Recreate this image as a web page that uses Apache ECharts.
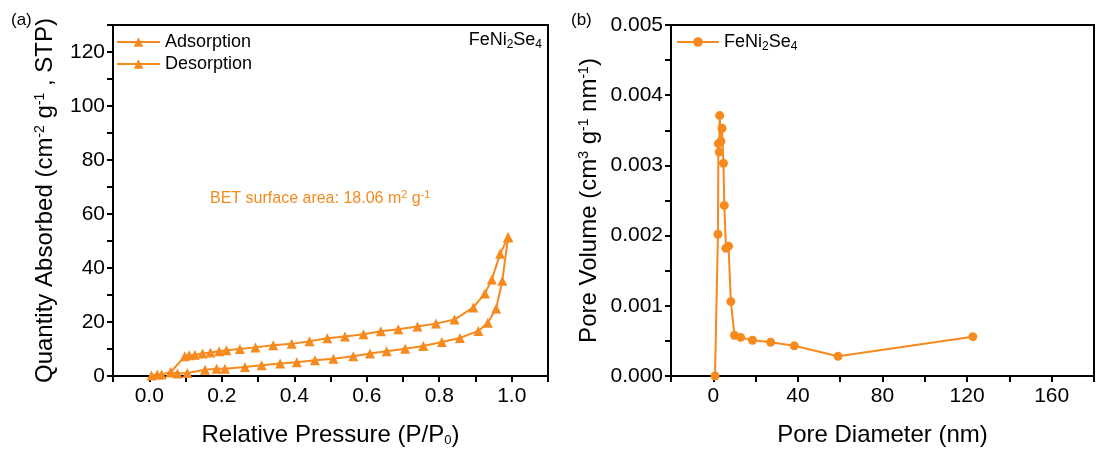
<!DOCTYPE html>
<html>
<head>
<meta charset="utf-8">
<script src="https://cdn.jsdelivr.net/npm/echarts@6/dist/echarts.min.js"></script>
<style>
  html, body { margin: 0; padding: 0; background: #fff; }
  #main { width: 1097px; height: 452px; }
</style>
</head>
<body>
<div id="main"></div>
<script>
// (a) isotherm, lower branch
const adsP = [0.006, 0.022, 0.034, 0.059, 0.078, 0.105, 0.154, 0.186, 0.209, 0.264, 0.310, 0.361, 0.407, 0.457, 0.508, 0.563, 0.609, 0.655, 0.706, 0.756, 0.807, 0.857, 0.908, 0.934, 0.957, 0.974, 0.990]
const adsQ = [0.2, 0.6, 0.6, 1.4, 0.9, 1.1, 2.3, 2.7, 2.7, 3.3, 4.0, 4.6, 5.1, 5.8, 6.4, 7.3, 8.3, 9.2, 10.1, 11.1, 12.6, 14.1, 16.7, 19.7, 25.0, 35.3, 51.4]
// (a) isotherm, upper branch
const desP = [0.990, 0.968, 0.945, 0.926, 0.894, 0.842, 0.791, 0.740, 0.687, 0.639, 0.591, 0.540, 0.491, 0.442, 0.393, 0.342, 0.293, 0.250, 0.213, 0.193, 0.169, 0.147, 0.126, 0.110, 0.098, 0.059]
const desQ = [51.4, 45.3, 35.7, 30.6, 25.4, 20.9, 19.4, 18.3, 17.3, 16.6, 15.5, 14.6, 14.0, 12.9, 11.9, 11.4, 10.6, 10.0, 9.5, 9.2, 8.7, 8.3, 7.9, 7.7, 7.3, 1.4]
// (b) pore size distribution
const poreD = [0.8, 2.2, 2.4, 2.8, 3.0, 3.6, 4.1, 4.8, 5.2, 6.0, 7.2, 8.3, 10.0, 12.9, 18.5, 27.1, 38.3, 59.0, 122.7]
const poreV = [0, 0.00202, 0.00331, 0.00319, 0.00371, 0.00334, 0.00353, 0.00303, 0.00243, 0.00182, 0.00185, 0.00106, 0.00058, 0.00055, 0.00051, 0.00048, 0.00043, 0.00028, 0.00056]

const orange = '#f68a1e'
const font = 'Liberation Sans, Arial, sans-serif'
const zip = (a, b) => a.map((v, i) => [v, b[i]])

const rich = {
  sup: { fontSize: 14, fontFamily: font, padding: [0, 0, 11, 0] },
  sub: { fontSize: 13, fontFamily: font, padding: [11, 0, 0, 0] }
}
const richSmall = {
  sub: { fontSize: 12, fontFamily: font, padding: [9, 0, 0, 0] }
}

// 坐标轴公共样式
function axisBase (extra) {
  return Object.assign({
    type: 'value',
    splitLine: { show: false },
    axisLine: { show: true, onZero: false, lineStyle: { color: '#000', width: 2 } },
    axisTick: { show: true, length: 6, lineStyle: { color: '#000', width: 2 } },
    nameLocation: 'middle',
    nameTextStyle: { color: '#000', fontSize: 24, fontFamily: font, rich: rich }
  }, extra)
}

const chart = echarts.init(document.getElementById('main'))
chart.setOption({
  animation: false,
  backgroundColor: '#fff',
  textStyle: { fontFamily: font },
  grid: [
    { left: 113, right: 549, top: 25, bottom: 76, show: true, borderColor: '#000', borderWidth: 2 },
    { left: 671, right: -9, top: 25, bottom: 76, show: true, borderColor: '#000', borderWidth: 2 }
  ],
  title: [
    { text: '(a)', left: 6, top: 7, textStyle: { fontSize: 17, fontWeight: 'normal', color: '#000', fontFamily: font } },
    { text: '(b)', left: 566, top: 7, textStyle: { fontSize: 17, fontWeight: 'normal', color: '#000', fontFamily: font } },
    {
      text: 'FeNi{sub|2}Se{sub|4}', right: 550, top: 25,
      textStyle: { fontSize: 18, fontWeight: 'normal', color: '#000', fontFamily: font, rich: richSmall }
    },
    {
      text: 'BET surface area: 18.06 m{sup|2} g{sup|-1}', left: 205, top: 184,
      textStyle: { fontSize: 16, fontWeight: 'normal', color: orange, fontFamily: font, rich: {
        sup: { fontSize: 11, color: orange, fontFamily: font, padding: [0, 0, 9, 0] }
      } }
    }
  ],
  legend: [
    {
      data: ['Adsorption', 'Desorption'],
      orient: 'vertical', left: 111, top: 28, itemGap: 4,
      itemWidth: 43, itemHeight: 12,
      textStyle: { fontSize: 18, color: '#000', fontFamily: font }
    },
    {
      data: ['FeNi2Se4'],
      left: 671, top: 28, itemWidth: 42, itemHeight: 12,
      formatter: () => 'FeNi{sub|2}Se{sub|4}',
      textStyle: { fontSize: 18, color: '#000', fontFamily: font, rich: richSmall }
    }
  ],
  xAxis: [
    axisBase({
      gridIndex: 0, min: -0.1, max: 1.1, interval: 0.1,
      name: 'Relative Pressure (P/P{sub|0})', nameGap: 47,
      axisLabel: {
        color: '#000', fontSize: 21, margin: 10, fontFamily: font,
        formatter: v => {
          const k = Math.round(v * 10)
          return (k < 0 || k > 10 || k % 2) ? '' : (k / 10).toFixed(1)
        }
      }
    }),
    axisBase({
      gridIndex: 1, min: -20, max: 180, interval: 20,
      name: 'Pore Diameter (nm)', nameGap: 47,
      axisLabel: {
        color: '#000', fontSize: 21, margin: 10, fontFamily: font,
        formatter: v => (v < 0 || v % 40) ? '' : String(v)
      }
    })
  ],
  yAxis: [
    axisBase({
      gridIndex: 0, min: 0, max: 130, interval: 10,
      name: 'Quantity Absorbed (cm{sup|-2} g{sup|-1} , STP)', nameGap: 55,
      axisLabel: {
        color: '#000', fontSize: 21, margin: 8, fontFamily: font,
        formatter: v => (v % 20 || v > 120) ? '' : String(v)
      }
    }),
    axisBase({
      gridIndex: 1, min: 0, max: 0.005, interval: 0.0005,
      name: 'Pore Volume (cm{sup|3} g{sup|-1} nm{sup|-1})', nameGap: 69,
      axisLabel: {
        color: '#000', fontSize: 21, margin: 8, fontFamily: font,
        formatter: v => {
          const k = Math.round(v * 10000)
          return k % 10 ? '' : (k / 10000).toFixed(3)
        }
      }
    })
  ],
  series: [
    {
      name: 'Adsorption', type: 'line', xAxisIndex: 0, yAxisIndex: 0,
      data: zip(adsP, adsQ), symbol: 'triangle', symbolSize: 10,
      lineStyle: { color: orange, width: 2 }, itemStyle: { color: orange }
    },
    {
      name: 'Desorption', type: 'line', xAxisIndex: 0, yAxisIndex: 0,
      data: zip(desP, desQ), symbol: 'triangle', symbolSize: 10,
      lineStyle: { color: orange, width: 2 }, itemStyle: { color: orange }
    },
    {
      name: 'FeNi2Se4', type: 'line', xAxisIndex: 1, yAxisIndex: 1,
      data: zip(poreD, poreV), symbol: 'circle', symbolSize: 9,
      lineStyle: { color: orange, width: 2 }, itemStyle: { color: orange }
    }
  ]
})
</script>
</body>
</html>
